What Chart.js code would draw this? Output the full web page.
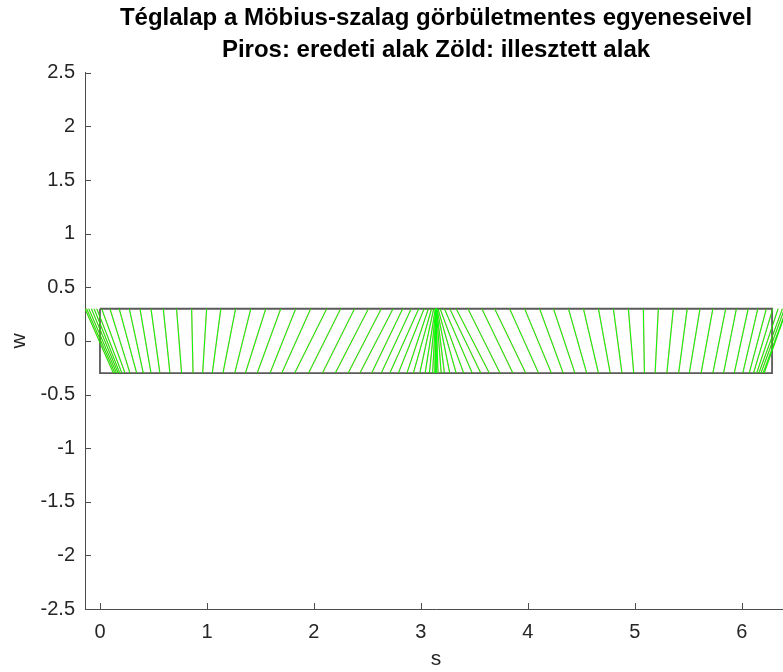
<!DOCTYPE html>
<html>
<head>
<meta charset="utf-8">
<script src="https://cdn.jsdelivr.net/npm/chart.js@4/dist/chart.umd.min.js"></script>
<style>
html,body{margin:0;padding:0;background:#fff;overflow:hidden;}
#wrap{width:790px;height:672px;}
</style>
</head>
<body>
<div id="wrap"><canvas id="c" width="790" height="672"></canvas></div>
<script>
// Ruling lines: s-coordinate of the top end (w = 0.3) and bottom end (w = -0.3)
const topS = [
  -0.14, -0.125, -0.105, -0.08, -0.055, -0.03, 0.016, 0.093, 0.18, 0.274,
  0.374, 0.477, 0.592, 0.716, 0.857, 0.997, 1.13, 1.268, 1.41, 1.55,
  1.69, 1.83, 1.97, 2.12, 2.25, 2.38, 2.51, 2.63, 2.74, 2.83,
  2.91, 2.98, 3.03, 3.07, 3.10, 3.12, 3.135, 3.14, 3.1416, 3.1416,
  3.1416, 3.1416, 3.143, 3.146, 3.15, 3.16, 3.18, 3.22, 3.27, 3.33,
  3.44, 3.57, 3.69, 3.83, 3.97, 4.11, 4.24, 4.38, 4.52, 4.66,
  4.80, 4.94, 5.08, 5.22, 5.36, 5.49, 5.61, 5.73, 5.85, 5.95,
  6.06, 6.15, 6.23, 6.29, 6.34, 6.38, 6.40, 6.42, 6.423
];
const botS = [
  0.125, 0.14, 0.155, 0.17, 0.185, 0.205, 0.234, 0.28, 0.343, 0.405,
  0.477, 0.56, 0.654, 0.763, 0.87, 0.96, 1.05, 1.15, 1.26, 1.36,
  1.47, 1.59, 1.70, 1.82, 1.95, 2.08, 2.20, 2.32, 2.43, 2.54,
  2.63, 2.71, 2.79, 2.87, 2.93, 2.99, 3.04, 3.08, 3.11, 3.13,
  3.1416, 3.16, 3.19, 3.22, 3.27, 3.33, 3.40, 3.48, 3.56, 3.64,
  3.74, 3.86, 3.98, 4.10, 4.22, 4.33, 4.44, 4.55, 4.66, 4.77,
  4.88, 4.99, 5.09, 5.19, 5.30, 5.41, 5.51, 5.62, 5.73, 5.83,
  5.93, 6.01, 6.07, 6.11, 6.14, 6.16, 6.18, 6.20, 6.21
];
const halfWidth = 0.3;                 // strip half-width w
const stripLength = 2 * Math.PI;       // rectangle length in s
const rectS = [0, stripLength, stripLength, 0, 0];
const rectW = [halfWidth, halfWidth, -halfWidth, -halfWidth, halfWidth];
const xTicks = [0, 1, 2, 3, 4, 5, 6];
const yTicks = [-2.5, -2, -1.5, -1, -0.5, 0, 0.5, 1, 1.5, 2, 2.5];
const xRange = [-0.14, 6.423];
const yRange = [-2.5, 2.5];
const titleLines = ['Téglalap a Möbius-szalag görbületmentes egyeneseivel', 'Piros: eredeti alak Zöld: illesztett alak'];

function rulingPoints() {
  const pts = [];
  for (let i = 0; i < topS.length; i++) {
    pts.push({x: topS[i], y: halfWidth});
    pts.push({x: botS[i], y: -halfWidth});
    pts.push({x: botS[i], y: null});
  }
  return pts;
}
const rectPoints = rectS.map((s, i) => ({x: s, y: rectW[i]}));

const AXIS = '#4d4d4d';
const TXT = '#262626';
const FONT = "'Liberation Sans', Arial, Helvetica, sans-serif";

const inwardTicks = {
  id: 'inwardTicks',
  afterDraw(chart) {
    const {ctx, chartArea, scales} = chart;
    ctx.save();
    ctx.strokeStyle = AXIS;
    ctx.lineWidth = 1;
    ctx.beginPath();
    xTicks.forEach(v => {
      const px = Math.round(scales.x.getPixelForValue(v)) + 0.5;
      ctx.moveTo(px, chartArea.bottom);
      ctx.lineTo(px, chartArea.bottom - 6);
    });
    yTicks.forEach(v => {
      const py = Math.round(scales.y.getPixelForValue(v)) + 0.5;
      ctx.moveTo(chartArea.left, py);
      ctx.lineTo(chartArea.left + 6, py);
    });
    ctx.stroke();
    ctx.restore();
  }
};

new Chart(document.getElementById('c'), {
  type: 'scatter',
  data: {
    datasets: [
      {data: rulingPoints(), showLine: true, spanGaps: false, borderColor: '#00ff00', borderWidth: 1, pointRadius: 0},
      {data: rulingPoints(), showLine: true, spanGaps: false, borderColor: 'rgba(255,0,0,0.35)', borderWidth: 1.4, pointRadius: 0},
      {data: rectPoints, showLine: true, borderColor: '#5a5a5a', borderWidth: 1.8, pointRadius: 0}
    ]
  },
  plugins: [inwardTicks],
  options: {
    responsive: false,
    animation: false,
    devicePixelRatio: 1,
    layout: {padding: {left: 0, right: 3, top: 0, bottom: 0}},
    plugins: {
      legend: {display: false},
      tooltip: {enabled: false},
      title: {
        display: true,
        fullSize: false,
        text: titleLines,
        color: '#000',
        font: {family: FONT, size: 24, weight: 'bold', lineHeight: 1.35},
        padding: {top: 2, bottom: 6}
      }
    },
    scales: {
      x: {
        type: 'linear',
        min: xRange[0], max: xRange[1],
        afterBuildTicks: s => { s.ticks = xTicks.map(v => ({value: v})); },
        afterFit: s => { s.height = 63; },
        grid: {display: false, drawTicks: false, tickLength: 0},
        border: {display: true, color: AXIS, width: 1},
        ticks: {color: TXT, font: {family: FONT, size: 20}, padding: 11, maxRotation: 0,
                callback: v => String(v)},
        title: {display: true, text: 's', color: TXT, font: {family: FONT, size: 21}, padding: {top: 0, bottom: 0}}
      },
      y: {
        type: 'linear',
        min: yRange[0], max: yRange[1],
        afterBuildTicks: s => { s.ticks = yTicks.map(v => ({value: v})); },
        afterFit: s => { s.width = 85; },
        grid: {display: false, drawTicks: false, tickLength: 0},
        border: {display: true, color: AXIS, width: 1},
        ticks: {color: TXT, font: {family: FONT, size: 20}, padding: 10,
                callback: v => String(v)},
        title: {display: true, text: 'w', color: TXT, font: {family: FONT, size: 21}, padding: {top: 7, bottom: 0}}
      }
    }
  }
});
</script>
</body>
</html>
